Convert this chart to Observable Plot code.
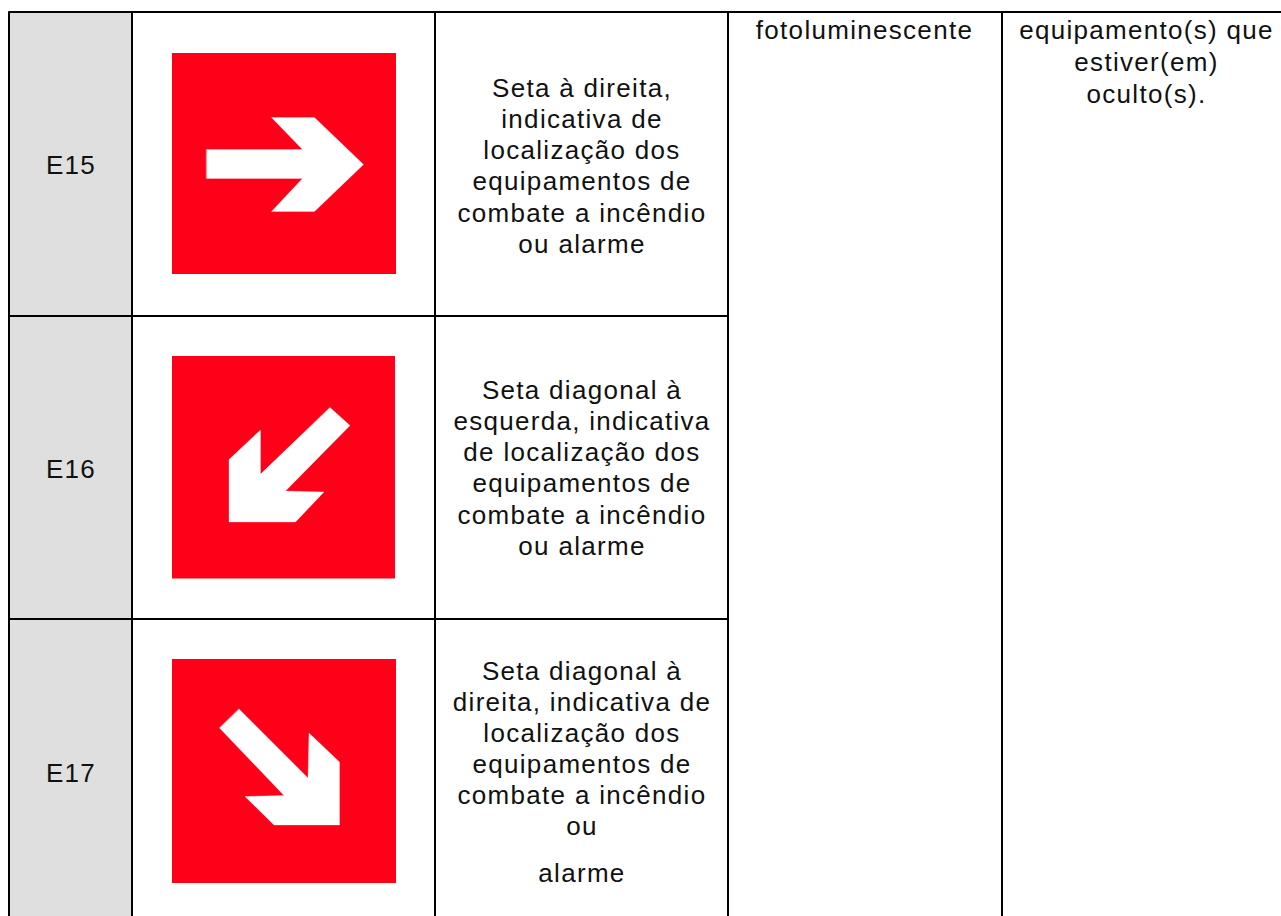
<!DOCTYPE html>
<html><head><meta charset="utf-8">
<script src="https://cdn.jsdelivr.net/npm/d3@7"></script>
<script src="https://cdn.jsdelivr.net/npm/@observablehq/plot@0.6"></script>
<style>html,body{margin:0;padding:0;background:#fff}svg{display:block}</style>
</head><body><div id="chart"></div>
<script>
// Table geometry, in sheet units
const gridColumns = [8.5, 131.5, 434.5, 727.5, 1001.5];
const gridRows = [11.5, 315.5, 618.5, 916];
const sheetRight = 1281;
const codes = ["E15", "E16", "E17"];
const codeY = [165, 469, 773];
const squares = [
  {x1: 172, x2: 396, y1: 53, y2: 274},
  {x1: 172, x2: 395, y1: 356, y2: 578.5},
  {x1: 172, x2: 396, y1: 659, y2: 883}
];
const arrowRight = [[206,149],[302,149],[271,117],[314,117],[363,164],[314,211],[271,211],[302,178],[206,178]];
const arrowDownLeft = [[329.5,407],[349.5,425],[285,490.5],[323.5,491.5],[295,521.5],[228.5,521.5],[228.5,459],[260,429.5],[260,473.5]];
const arrowDownRight = [[238.5,708.5],[307.5,777.5],[308.5,732.5],[339,761.5],[339,824.5],[273.5,824.5],[244.5,796],[283.5,795],[219,727.5]];
const descriptions = [
  {x: 581.5, y0: 88, lines: ["Seta à direita,","indicativa de","localização dos","equipamentos de","combate a incêndio","ou alarme"], dy: 31.2},
  {x: 581.5, y0: 390, lines: ["Seta diagonal à","esquerda, indicativa","de localização dos","equipamentos de","combate a incêndio","ou alarme"], dy: 31.2},
  {x: 581.5, y0: 671, lines: ["Seta diagonal à","direita, indicativa de","localização dos","equipamentos de","combate a incêndio","ou"], dy: 31}
];
const extraTexts = [
  {x: 581.5, y: 873, t: "alarme"},
  {x: 864, y: 30, t: "fotoluminescente"},
  {x: 1146, y: 30, t: "equipamento(s) que"},
  {x: 1146, y: 62, t: "estiver(em)"},
  {x: 1146, y: 94, t: "oculto(s)."}
];
const codeFill = "#dfdfdf", red = "#ff0019", ink = "#111";

const texts = [
  ...descriptions.flatMap(d => d.lines.map((t, i) => ({x: d.x, y: d.y0 + i * d.dy, t}))),
  ...extraTexts
];
const codeRects = gridRows.slice(0, -1).map((y, i) => ({y1: y, y2: gridRows[i + 1]}));
const vRules = gridColumns.map(x => ({x, y1: gridRows[0], y2: gridRows[3]}));
const hRules = [
  {y: gridRows[0], x1: gridColumns[0], x2: sheetRight},
  {y: gridRows[1], x1: gridColumns[0], x2: gridColumns[3]},
  {y: gridRows[2], x1: gridColumns[0], x2: gridColumns[3]}
];
const arrowMark = pts => Plot.line(pts, {x: d => d[0], y: d => d[1], fill: "#fff", stroke: "#fff", strokeWidth: 0.3, curve: "linear-closed"});
const textStyle = {fontFamily: "Liberation Sans, Arial, sans-serif", fontSize: 26, fill: ink, textAnchor: "middle", lineAnchor: "middle"};

const chart = Plot.plot({
  width: 1281, height: 916,
  margin: 0,
  style: {background: "#fff", letterSpacing: "1.3px"},
  x: {domain: [0, 1281], range: [0, 1281], axis: null},
  y: {domain: [0, 916], range: [0, 916], axis: null},
  marks: [
    Plot.rect(codeRects, {x1: gridColumns[0], x2: gridColumns[1], y1: "y1", y2: "y2", fill: codeFill}),
    Plot.rect(squares, {x1: "x1", x2: "x2", y1: "y1", y2: "y2", fill: red}),
    arrowMark(arrowRight), arrowMark(arrowDownLeft), arrowMark(arrowDownRight),
    Plot.ruleX(vRules, {x: "x", y1: "y1", y2: "y2", stroke: "#000", strokeWidth: 2}),
    Plot.ruleY(hRules, {y: "y", x1: "x1", x2: "x2", stroke: "#000", strokeWidth: 2}),
    Plot.text(codes, {x: 70.5, y: (d, i) => codeY[i], text: d => d, ...textStyle}),
    Plot.text(texts, {x: "x", y: "y", text: "t", ...textStyle})
  ]
});
document.getElementById("chart").append(chart);
</script></body></html>
